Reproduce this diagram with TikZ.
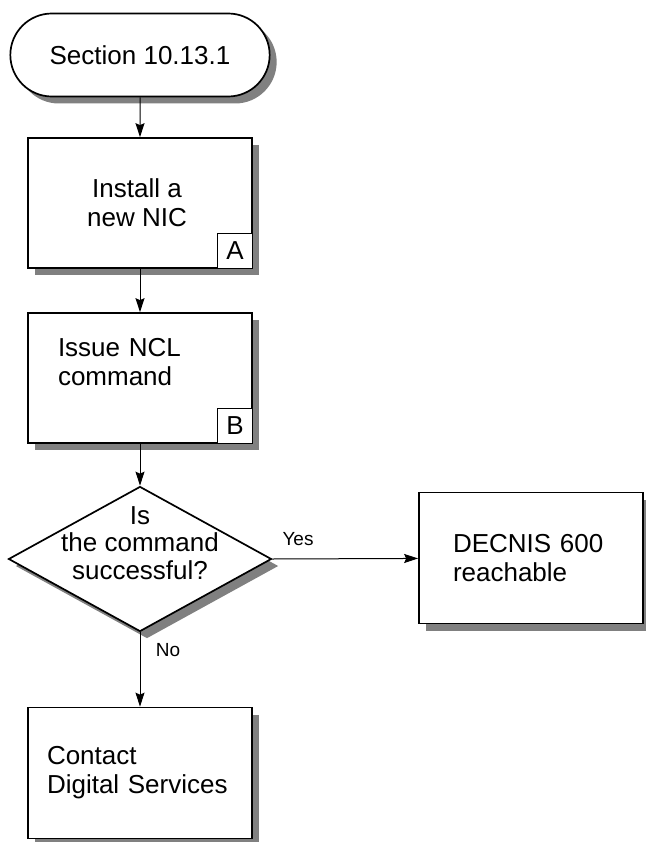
\documentclass[tikz,border=0pt]{standalone}
\usepackage{fontspec}
\setmainfont{Liberation Sans}
\usetikzlibrary{arrows.meta, shapes.geometric, shapes.misc, shadows, positioning}

\begin{document}
\begin{tikzpicture}[x=1pt, y=-1pt,
  every node/.style = {font=\fontsize{26}{29}\selectfont},
  dropsh/.style  = {drop shadow={shadow xshift=7pt, shadow yshift=-7pt,
                    fill=black!50, opacity=1}},
  termbox/.style = {rounded rectangle, draw, line width=1.7pt, fill=white,
                    dropsh, minimum width=266pt, minimum height=83pt},
  procbox/.style = {rectangle, draw, line width=1.7pt, fill=white,
                    dropsh, minimum width=224pt, minimum height=130pt,
                    inner sep=0pt},
  decbox/.style  = {diamond, draw, line width=1.7pt, fill=white,
                    dropsh, minimum width=263pt, minimum height=145pt,
                    inner sep=0pt},
  tagbox/.style  = {rectangle, draw, line width=0.8pt, fill=white,
                    minimum size=35pt, inner sep=0pt},
  lbl/.style     = {font=\fontsize{19}{22}\selectfont},
  arr/.style     = {-{Stealth[length=14pt, width=9pt, inset=2pt]},
                    line width=1pt},
]
\useasboundingbox (0,0) rectangle (645,842);

%% ── Start terminal ───────────────────────────────────────────────────────
\node[termbox] (start) at (140, 55) {Section 10.13.1};

%% ── Steps ────────────────────────────────────────────────────────────────
\node[procbox] (install) at (140, 203) {};
\node[align=center, inner sep=0pt] (installtxt)
  at (137, 203) {Install a\\new NIC};
\node[tagbox, anchor=south east] (tagA) at (install.south east) {A};

\node[procbox] (issue) at (140, 378) {};
\node[align=left, text width=164pt, inner sep=0pt] (issuetxt)
  at (140, 362) {Issue NCL\\command};
\node[tagbox, anchor=south east] (tagB) at (issue.south east) {B};

%% ── Decision ─────────────────────────────────────────────────────────────
\node[decbox] (check) at (140, 559) {};
\node[align=center, inner sep=0pt,
      font=\fontsize{26}{27.5}\selectfont] (checktxt)
  at (140, 543) {Is\\the command\\successful?};

%% ── Outcomes ─────────────────────────────────────────────────────────────
\node[procbox, minimum height=131pt, align=left, text width=156pt]
  (reach) at (531, 558) {DECNIS 600\\reachable};

\node[procbox, minimum height=131pt, align=left, text width=186pt]
  (contact) at (140, 773) {Contact\\Digital Services};

%% ── Arrows ───────────────────────────────────────────────────────────────
\draw[arr] (start)   -- (install);
\draw[arr] (install) -- (issue);
\draw[arr] (issue)   -- (check);
\draw[arr] (check.east)  -- (reach);
\draw[arr] (check.south) -- (contact);

\node[lbl] (yes) at (298, 539) {Yes};
\node[lbl] (no)  at (168, 650) {No};

\end{tikzpicture}
\end{document}
